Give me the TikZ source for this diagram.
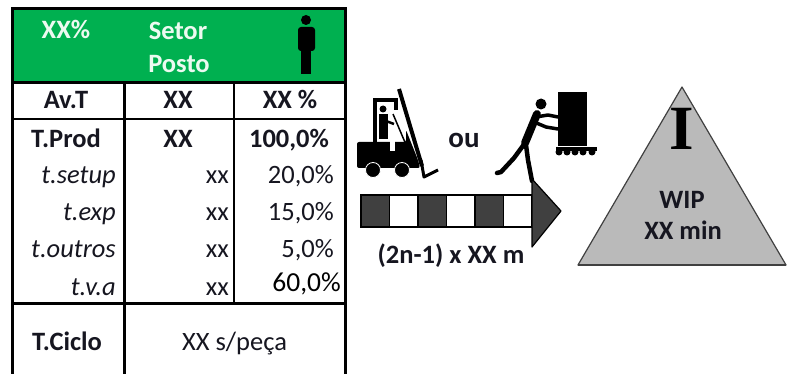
\documentclass[tikz,border=0pt]{standalone}
\usepackage{fontspec}
\setmainfont{Carlito}
\newfontfamily\serifI{Liberation Serif}
\usetikzlibrary{positioning}
\definecolor{hgreen}{RGB}{0,176,80}
\definecolor{hwhite}{RGB}{236,250,240}
\definecolor{ink}{RGB}{22,22,32}
\definecolor{dgray}{RGB}{64,64,64}
\definecolor{tgray}{RGB}{186,186,186}
\tikzstyle{cell} = [inner sep=0pt, anchor=base, text=ink, font=\fontsize{26.5}{30}\selectfont]
\tikzstyle{bcell} = [cell, font=\fontsize{26.5}{30}\selectfont\bfseries]
\tikzstyle{icell} = [cell, anchor=base east, font=\fontsize{26.5}{30}\selectfont\itshape]
\tikzstyle{rcell} = [cell, anchor=base east]
\tikzstyle{head} = [bcell, text=hwhite]
\tikzstyle{frame} = [line width=3pt]
\tikzstyle{grid} = [line width=1.3pt]
\tikzstyle{limb} = [line width=4.5pt, line cap=round, line join=round]

\begin{document}
\begin{tikzpicture}[x=1pt,y=-1pt]
\useasboundingbox (0,0) rectangle (795,374);

% table
\fill[hgreen] (12,9) rectangle (345,83);
\draw[grid] (12,119) -- (345,119);
\draw[grid] (234,83) -- (234,303);
\draw[frame] (124,83) -- (124,380);
\draw[frame] (12,83) -- (345,83);
\draw[frame] (12,303) -- (345,303);
\draw[frame] (12,9) rectangle (345,380);

\node[head] (pct) at (66,39) {XX\%};
\node[head] (setor) at (178,40) {Setor};
\node[head] (posto) at (179,73) {Posto};

% operator
\fill (306,20) circle (5pt);
\fill[rounded corners=3pt] (298,51) -- (298,27) -- (315,27) -- (315,51) -- cycle;
\fill (301,45) rectangle (305.7,74);
\fill (306.3,45) rectangle (311,74);

\node[bcell] (avt) at (66,109) {Av.T};
\node[bcell] (avxx) at (178,109) {XX};
\node[bcell] (avpc) at (290,109) {XX \%};

\node[bcell] (prod) at (66,148) {T.Prod};
\node[bcell] (prodxx) at (178,148) {XX};
\node[bcell] (prodpc) at (289,148) {100,0\%};

\node[icell] (setup) at (116,184) {t.setup};
\node[rcell] (setupxx) at (229,184) {xx};
\node[rcell] (setuppc) at (334,184) {20,0\%};

\node[icell] (exp) at (116,221) {t.exp};
\node[rcell] (expxx) at (229,221) {xx};
\node[rcell] (exppc) at (334,221) {15,0\%};

\node[icell] (outros) at (116,258) {t.outros};
\node[rcell] (outrosxx) at (229,258) {xx};
\node[rcell] (outrospc) at (334,258) {5,0\%};

\node[icell] (tva) at (116,295) {t.v.a};
\node[rcell] (tvaxx) at (229,295) {xx};
\node[rcell, text=black, font=\fontsize{27.5}{30}\selectfont] (tvapc) at (341,291) {60,0\%};

\node[bcell] (ciclo) at (67,350) {T.Ciclo};
\node[cell] (ciclov) at (234.5,350) {XX s/peça};

% forklift
\fill[rounded corners=2pt] (357,168) -- (357,142) -- (406,142) -- (406,130) -- (418,160) -- (420,168) -- cycle;
\fill[white] (390,140) rectangle (395,151);
\draw[line width=3.5pt] (375,142) -- (375,100) -- (396,100) -- (396,110);
\fill (383,109) circle (3.5pt);
\fill (379,114) rectangle (388,139);
\draw[line width=2.5pt] (386,121) -- (394,124);
\draw[line width=4pt] (399,89) -- (422,166);
\draw[line width=1.5pt] (393,114) -- (415,166);
\draw[line width=3pt, line join=round] (421,160) -- (424,177) -- (438,170);
\filldraw[draw=white, line width=0.8pt] (373,170) circle (7.5pt);
\filldraw[draw=white, line width=0.8pt] (402,170) circle (7.5pt);

\node[bcell, font=\fontsize{29}{32}\selectfont\bfseries] (ou) at (464,148) {ou};

% worker with trolley
\fill (541,104) circle (5.5pt);
\draw[limb, line width=8pt] (537,114) -- (525,143);
\draw[limb, line width=3.5pt] (536,117) -- (548,115) -- (558,117);
\draw[limb, line width=3.5pt] (534,122) -- (546,127) -- (558,129);
\draw[limb] (525,143) -- (514,158) -- (501,172) -- (497,173);
\draw[limb] (526,145) -- (528,160) -- (532,181);
\fill (558,92) rectangle (587,146);
\fill (556,147) rectangle (597,151);
\fill (559,152) circle (3.5pt);
\fill (567,152) circle (3.5pt);
\fill (575,152) circle (3.5pt);
\fill (583,152) circle (3.5pt);
\fill (592,152) circle (3.5pt);

% transport arrow
\fill[dgray] (361,195) rectangle (389.5,227);
\fill[dgray] (418,195) rectangle (446.5,227);
\fill[dgray] (475,195) rectangle (503.5,227);
\draw[line width=1.5pt] (361,195) rectangle (532,227);
\draw[line width=1.2pt] (389.5,195) -- (389.5,227);
\draw[line width=1.2pt] (418,195) -- (418,227);
\draw[line width=1.2pt] (446.5,195) -- (446.5,227);
\draw[line width=1.2pt] (475,195) -- (475,227);
\draw[line width=1.2pt] (503.5,195) -- (503.5,227);
\filldraw[fill=dgray, draw=black, line width=1.2pt, line join=round] (532,179) -- (561,211) -- (532,247) -- cycle;
\node[bcell] (dist) at (451,263) {(2n-1) x XX m};

% inventory
\filldraw[fill=tgray, draw=dgray, line width=1.2pt, line join=round] (682,87) -- (786,265) -- (578,265) -- cycle;
\draw[dgray, line width=2.2pt] (578,265) -- (786,265);
\node[cell, font=\fontsize{63}{63}\selectfont\serifI\bfseries, text=black] (inv) at (682,150) {I};
\node[bcell] (wip) at (682,208) {WIP};
\node[bcell] (wipt) at (683,240) {XX min};
\end{tikzpicture}
\end{document}
